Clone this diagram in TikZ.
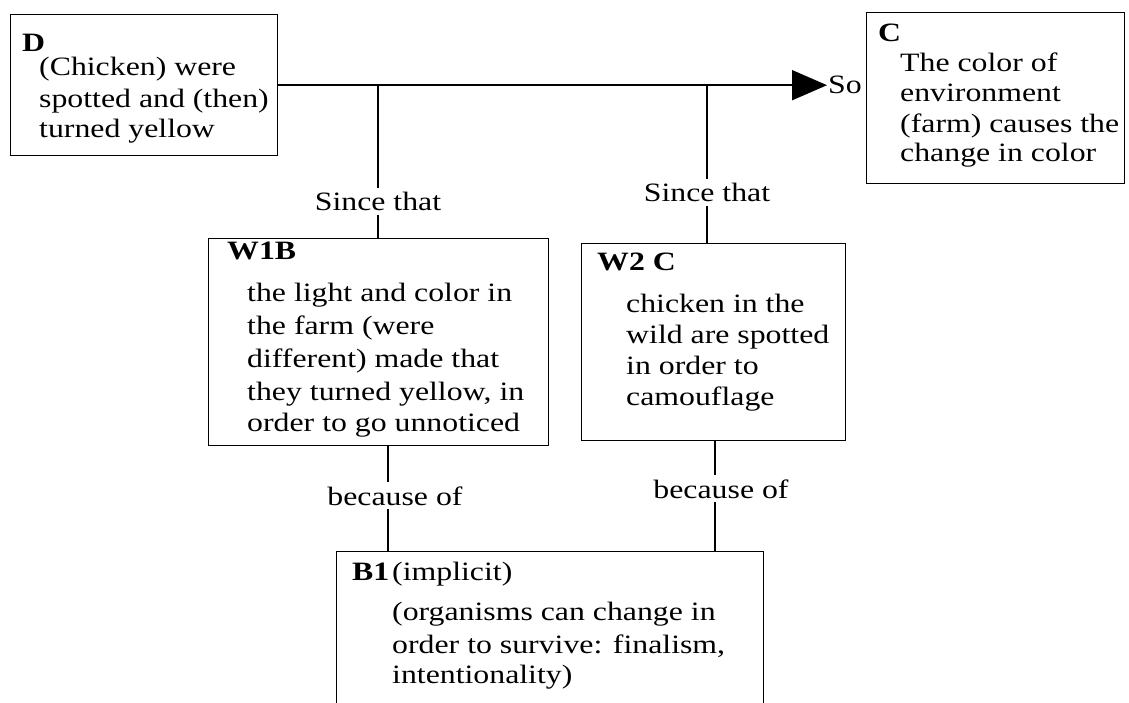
\documentclass[tikz,border=0pt]{standalone}
\usepackage{fontspec}
\setmainfont{Liberation Serif}[FakeStretch=1.2]
\usetikzlibrary{arrows.meta}
\tikzset{
  box/.style={draw, line width=1.4pt, rectangle, inner sep=0pt, anchor=north west},
  conn/.style={line width=1.8pt},
  lbl/.style={font=\fontsize{26.5}{31}\selectfont, inner sep=0pt, anchor=base west},
  hd/.style={font=\fontsize{26.5}{31}\selectfont\bfseries, inner sep=0pt, anchor=base west},
  mid/.style={font=\fontsize{26.5}{31}\selectfont, inner sep=4pt, anchor=base},
}
\begin{document}
\begin{tikzpicture}[x=1pt,y=-1pt]
\useasboundingbox[fill=white] (0,0) rectangle (1129,703);
% boxes
\node[box, minimum width=267pt, minimum height=141pt] (D) at (10,14) {};
\node[box, minimum width=258pt, minimum height=171pt] (C) at (866,12) {};
\node[box, minimum width=340pt, minimum height=207pt] (W1) at (208,238) {};
\node[box, minimum width=264pt, minimum height=197pt] (W2) at (581,243) {};
\begin{scope}
\clip (0,0) rectangle (1129,703);
\node[box, minimum width=427pt, minimum height=200pt] (B1) at (336,551) {};
\end{scope}
% D text
\node[hd] (dh) at (22,52) {D};
\node[lbl] (d1) at (39,76) {(Chicken) were};
\node[lbl] (d2) at (39,108) {spotted and (then)};
\node[lbl] (d3) at (39,138) {turned yellow};
% C text
\node[hd] (ch) at (878,42) {C};
\node[lbl] (c1) at (900,72) {The color of};
\node[lbl] (c2) at (900,102) {environment};
\node[lbl] (c3) at (900,133) {(farm) causes the};
\node[lbl] (c4) at (900,162) {change in color};
% W1B text
\node[hd] (w1h) at (227,260) {W1B};
\node[lbl] (w11) at (247,301) {the light and color in};
\node[lbl] (w12) at (247,334) {the farm (were};
\node[lbl] (w13) at (247,367) {different) made that};
\node[lbl] (w14) at (247,400) {they turned yellow, in};
\node[lbl] (w15) at (247,431) {order to go unnoticed};
% W2 C text
\node[hd] (w2h) at (597,271) {W2 C};
\node[lbl] (w21) at (626,312) {chicken in the};
\node[lbl] (w22) at (626,343) {wild are spotted};
\node[lbl] (w23) at (626,374) {in order to};
\node[lbl] (w24) at (626,405) {camouflage};
% B1 text
\node[lbl] (b1h) at (352,580) {\makebox[40pt][l]{\bfseries B1}(implicit)};
\node[lbl] (b11) at (392,620) {(organisms can change in};
\node[lbl] (b12) at (392,653) {order to survive: finalism,};
\node[lbl] (b13) at (392,683) {intentionality)};
% main arrow
\node[lbl, inner sep=1pt] (so) at (827,94) {So};
\draw[conn, -{Triangle[length=35pt,width=30pt]}] (D.east) -- (D.east -| so.west);
% since that branches
\coordinate (j1) at (378,0);
\coordinate (j2) at (707,0);
\node[mid] (st1) at (378,211) {Since that};
\node[mid] (st2) at (707,202) {Since that};
\draw[conn] (j1 |- D.east) -- (st1.north);
\draw[conn] (st1.south) -- (st1.south |- W1.north);
\draw[conn] (j2 |- D.east) -- (st2.north);
\draw[conn] (st2.south) -- (st2.south |- W2.north);
% because of branches
\coordinate (k1) at (388,0);
\coordinate (k2) at (715,0);
\node[mid] (bo1) at (395,505) {because of};
\node[mid] (bo2) at (721,498) {because of};
\draw[conn] (k1 |- W1.south) -- (k1 |- bo1.north);
\draw[conn] (k1 |- bo1.south) -- (k1 |- B1.north);
\draw[conn] (k2 |- W2.south) -- (k2 |- bo2.north);
\draw[conn] (k2 |- bo2.south) -- (k2 |- B1.north);
\end{tikzpicture}
\end{document}
